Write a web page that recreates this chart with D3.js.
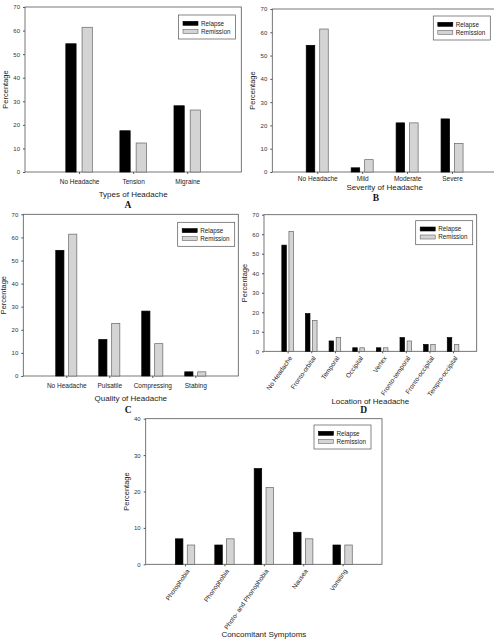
<!DOCTYPE html>
<html>
<head>
<meta charset="utf-8">
<script src="https://cdn.jsdelivr.net/npm/d3@7"></script>
<style>
  body { margin: 0; background: #fff; }
  svg { display: block; font-family: "Liberation Sans", Arial, sans-serif; }
</style>
</head>
<body>
<script>
// Series
const series = ["Relapse", "Remission"];

// A - types of headache
const typeCats = ["No Headache", "Tension", "Migraine"];
const typeRelapse = [54.4, 17.5, 28.1];
const typeRemission = [61.4, 12.3, 26.3];

// B - severity
const severityCats = ["No Headache", "Mild", "Moderate", "Severe"];
const severityRelapse = [54.4, 1.8, 21.1, 22.8];
const severityRemission = [61.4, 5.3, 21.1, 12.3];

// C - quality
const qualityCats = ["No Headache", "Pulsatile", "Compressing", "Stabing"];
const qualityRelapse = [54.4, 15.8, 28.1, 1.8];
const qualityRemission = [61.4, 22.8, 14.0, 1.8];

// D - location
const locationCats = ["No Headache", "Fronto-orbital", "Temporal", "Occipital", "Vertex",
  "Fronto-temporal", "Fronto-occipital", "Tempro-occipital"];
const locationRelapse = [54.4, 19.3, 5.3, 1.8, 1.8, 7.0, 3.5, 7.0];
const locationRemission = [61.4, 15.8, 7.0, 1.8, 1.8, 5.3, 3.5, 3.5];

// E - concomitant symptoms
const symptomCats = ["Photophobia", "Phonophobia", "Photo- and Phonophobia", "Nausea", "Vomiting"];
const symptomRelapse = [7.0, 5.3, 26.3, 8.8, 5.3];
const symptomRemission = [5.3, 7.0, 21.1, 7.0, 5.3];

// y ticks
const ticks70 = [0, 10, 20, 30, 40, 50, 60, 70];
const ticks40 = [0, 10, 20, 30, 40];

const W = 494, H = 641;
const colors = { Relapse: "#000000", Remission: "#d4d4d4" };
const lineColor = "#555";

const svg = d3.select("body").append("svg")
  .attr("width", W)
  .attr("height", H);

// layout of each panel (pixels)
const panels = [
  { cats: typeCats, rel: typeRelapse, rem: typeRemission, ticks: ticks70, ymax: 70,
    left: 25, right: 241.3, top: 7, bottom: 172, rotate: false, pad: 5,
    title: "Types of Headache", titleY: 197, letter: "A", letterX: 128, letterY: 208,
    legend: [178.5, 15] },
  { cats: severityCats, rel: severityRelapse, rem: severityRemission, ticks: ticks70, ymax: 70,
    left: 272.3, right: 497, top: 9, bottom: 172, rotate: false, pad: 2.5,
    title: "Severity of Headache", titleY: 189.5, letter: "B", letterX: 376, letterY: 201,
    legend: [433.3, 16] },
  { cats: qualityCats, rel: qualityRelapse, rem: qualityRemission, ticks: ticks70, ymax: 70,
    left: 23.3, right: 238.3, top: 214.3, bottom: 376, rotate: false, pad: 5,
    title: "Quality of Headache", titleY: 401, letter: "C", letterX: 128.3, letterY: 413,
    legend: [177.7, 222.3] },
  { cats: locationCats, rel: locationRelapse, rem: locationRemission, ticks: ticks70, ymax: 70,
    left: 264, right: 476.7, top: 214.7, bottom: 351.3, rotate: true, pad: 5,
    title: "Location of Headache", titleY: 403.5, letter: "D", letterX: 363.7, letterY: 413,
    legend: [415.7, 220.7] },
  { cats: symptomCats, rel: symptomRelapse, rem: symptomRemission, ticks: ticks40, ymax: 40,
    left: 145.7, right: 382, top: 418.7, bottom: 564.3, rotate: true, pad: 5,
    title: "Concomitant Symptoms", titleY: 637, letter: null,
    legend: [314, 425] }
];

panels.forEach(drawPanel);

function drawPanel(p) {
  const g = svg.append("g");

  const x = d3.scalePoint()
    .domain(p.cats)
    .range([p.left, p.right])
    .padding(1);
  const step = x.step();

  const sub = d3.scaleBand()
    .domain(series)
    .range([-0.245 * step, 0.245 * step])
    .paddingInner(0.367);

  const y = d3.scaleLinear()
    .domain([0, p.ymax])
    .range([p.bottom, p.top]);

  // frame
  g.append("rect")
    .attr("x", p.left)
    .attr("y", p.top)
    .attr("width", p.right - p.left)
    .attr("height", p.bottom - p.top)
    .attr("fill", "none")
    .attr("stroke", lineColor)
    .attr("stroke-width", 0.8);

  // bars
  const rows = p.cats.map((c, i) => ({ cat: c, Relapse: p.rel[i], Remission: p.rem[i] }));
  const grp = g.selectAll(".grp")
    .data(rows)
    .enter()
    .append("g")
    .attr("transform", d => `translate(${x(d.cat)},0)`);

  grp.selectAll("rect")
    .data(d => series.map(s => ({ key: s, value: d[s] })))
    .enter()
    .append("rect")
    .attr("x", d => sub(d.key))
    .attr("width", sub.bandwidth())
    .attr("y", d => y(d.value))
    .attr("height", d => y(0) - y(d.value))
    .attr("fill", d => colors[d.key])
    .attr("stroke", d => d.key === "Relapse" ? "#000" : "#666")
    .attr("stroke-width", 0.7);

  // y axis
  const ya = g.append("g")
    .attr("transform", `translate(${p.left},0)`)
    .call(d3.axisLeft(y).tickValues(p.ticks).tickSize(2).tickPadding(3));
  ya.select(".domain").remove();
  ya.selectAll("line").attr("stroke", lineColor);
  ya.selectAll("text")
    .style("font-size", "6px")
    .attr("fill", "#333");

  // x axis
  const xa = g.append("g")
    .attr("transform", `translate(0,${p.bottom})`)
    .call(d3.axisBottom(x).tickSize(2).tickPadding(p.pad));
  xa.select(".domain").remove();
  xa.selectAll("line").attr("stroke", lineColor);
  const xt = xa.selectAll("text")
    .style("font-size", "6.5px")
    .attr("fill", "#222");
  if (p.rotate) {
    xt.attr("x", 0)
      .attr("y", 0)
      .attr("dy", "0.35em")
      .attr("text-anchor", "end")
      .attr("transform", "translate(2.5,5.5) rotate(-55)");
  }

  // y label
  g.append("text")
    .attr("transform", `translate(${p.left - 17},${(p.top + p.bottom) / 2}) rotate(-90)`)
    .attr("text-anchor", "middle")
    .style("font-size", "7.5px")
    .attr("fill", "#222")
    .text("Percentage");

  // x title
  g.append("text")
    .attr("x", (p.left + Math.min(p.right, W + 3)) / 2)
    .attr("y", p.titleY)
    .attr("text-anchor", "middle")
    .style("font-size", "8px")
    .attr("fill", "#222")
    .text(p.title);

  if (p.letter) {
    g.append("text")
      .attr("x", p.letterX)
      .attr("y", p.letterY)
      .attr("text-anchor", "middle")
      .style("font-family", "'Liberation Serif', 'Times New Roman', serif")
      .style("font-weight", "bold")
      .style("font-size", "9.5px")
      .attr("fill", "#111")
      .text(p.letter);
  }

  // legend
  const [lx, ly] = p.legend;
  const lw = 57, lh = 24;
  const lg = g.append("g").attr("transform", `translate(${lx},${ly})`);
  lg.append("rect")
    .attr("width", lw)
    .attr("height", lh)
    .attr("fill", "#fff")
    .attr("stroke", lineColor)
    .attr("stroke-width", 0.7);
  series.forEach((s, i) => {
    lg.append("rect")
      .attr("x", 4.5)
      .attr("y", 6.3 + i * 8)
      .attr("width", 15)
      .attr("height", 4)
      .attr("fill", colors[s])
      .attr("stroke", s === "Relapse" ? "#000" : "#666")
      .attr("stroke-width", 0.6);
    lg.append("text")
      .attr("x", 22.5)
      .attr("y", 8.3 + i * 8)
      .attr("dy", "0.35em")
      .style("font-size", "6.3px")
      .attr("fill", "#222")
      .text(s);
  });
}
</script>
</body>
</html>
